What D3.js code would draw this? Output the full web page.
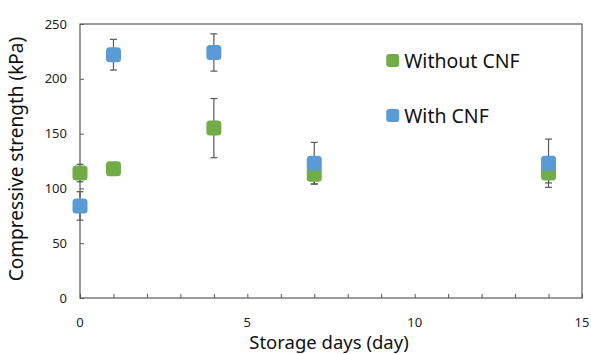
<!DOCTYPE html>
<html>
<head>
<meta charset="utf-8">
<script src="https://cdn.jsdelivr.net/npm/d3@7"></script>
<style>
  body { margin: 0; background: #fff; }
  svg { font-family: 'Noto Sans', 'Open Sans', sans-serif; }
</style>
</head>
<body>
<div id="chart"></div>
<script>
const days = [0, 1, 4, 7, 14];
const withoutCnf = [114, 118, 155, 113, 114];
const withoutCnfErr = [8, 3, 27, 9, 9];
const withCnf = [84, 222, 224, 123, 123];
const withCnfErr = [13, 14, 17, 19, 22];
const xTicks = [0, 5, 10, 15];
const yTicks = [0, 50, 100, 150, 200, 250];
const seriesNames = ['Without CNF', 'With CNF'];
const colors = ['#70ad47', '#5b9bd5'];

const width = 591, height = 354;
const margin = { top: 24, right: 9, bottom: 56, left: 80 };
const w = width - margin.left - margin.right;
const h = height - margin.top - margin.bottom;

const svg = d3.select('#chart').append('svg')
  .attr('width', width)
  .attr('height', height);

const g = svg.append('g')
  .attr('transform', 'translate(' + margin.left + ',' + margin.top + ')');

const xScale = d3.scaleLinear().domain([0, 15]).range([0, w]);
const yScale = d3.scaleLinear().domain([0, 250]).range([h, 0]);

// frame
g.append('rect')
  .attr('width', w).attr('height', h)
  .style('fill', 'none').style('stroke', '#595959').style('stroke-width', 1.2);

// x axis: minor ticks every day, labels every 5
const xAxis = g.append('g')
  .attr('transform', 'translate(0,' + h + ')')
  .call(d3.axisBottom(xScale).tickValues(d3.range(0, 16)).tickSize(-4).tickFormat(''));
xAxis.select('.domain').remove();
xAxis.selectAll('line').style('stroke', '#595959');

g.append('g').selectAll('text')
  .data(xTicks).enter().append('text')
  .attr('x', (d) => xScale(d))
  .attr('y', h + 29)
  .style('text-anchor', 'middle')
  .style('font-size', '13px')
  .style('fill', '#222')
  .text((d) => d);

const yAxis = g.append('g')
  .call(d3.axisLeft(yScale).tickValues(yTicks).tickSize(-4).tickPadding(13));
yAxis.select('.domain').remove();
yAxis.selectAll('line').style('stroke', '#595959');
yAxis.selectAll('text').style('font-size', '13px').style('fill', '#222').style('font-family', "'Noto Sans', sans-serif");

// axis titles
g.append('text')
  .attr('transform', 'translate(' + (w / 2 - 2) + ',' + (h + 51) + ')')
  .style('text-anchor', 'middle')
  .style('font-size', '18.5px')
  .style('fill', '#111')
  .text('Storage days (day)');

g.append('text')
  .attr('transform', 'rotate(-90)')
  .attr('x', -h / 2 + 2)
  .attr('y', -57)
  .style('text-anchor', 'middle')
  .style('font-size', '19px')
  .style('fill', '#111')
  .text('Compressive strength (kPa)');

const series = [
  days.map((d, i) => ({ x: d, y: withoutCnf[i], e: withoutCnfErr[i] })),
  days.map((d, i) => ({ x: d, y: withCnf[i], e: withCnfErr[i] }))
];

// error bars
series.forEach((s) => {
  const eb = g.append('g').selectAll('g').data(s).enter().append('g')
    .style('stroke', '#595959').style('stroke-width', 1.2);
  eb.append('line')
    .attr('x1', (d) => xScale(d.x)).attr('x2', (d) => xScale(d.x))
    .attr('y1', (d) => yScale(d.y + d.e)).attr('y2', (d) => yScale(d.y - d.e));
  [1, -1].forEach((sgn) => {
    eb.append('line')
      .attr('x1', (d) => xScale(d.x) - 3.5).attr('x2', (d) => xScale(d.x) + 3.5)
      .attr('y1', (d) => yScale(d.y + sgn * d.e)).attr('y2', (d) => yScale(d.y + sgn * d.e));
  });
});

// markers
const ms = 15;
series.forEach((s, k) => {
  g.append('g').selectAll('rect').data(s).enter().append('rect')
    .attr('x', (d) => xScale(d.x) - ms / 2)
    .attr('y', (d) => yScale(d.y) - ms / 2)
    .attr('width', ms).attr('height', ms)
    .attr('rx', 3.5)
    .style('fill', colors[k]);
});

// legend
const legend = g.append('g')
  .attr('transform', 'translate(' + (xScale(9.15)) + ',' + 30 + ')');
const item = legend.selectAll('g').data(seriesNames).enter().append('g')
  .attr('transform', (_d, i) => 'translate(0,' + i * 55 + ')');
item.append('rect')
  .attr('x', 0).attr('y', 0).attr('width', 13).attr('height', 13).attr('rx', 3)
  .style('fill', (_d, i) => colors[i]);
item.append('text')
  .attr('x', 18).attr('y', 14)
  .style('font-size', '19.5px')
  .style('fill', '#111')
  .text((d) => d);
</script>
</body>
</html>
